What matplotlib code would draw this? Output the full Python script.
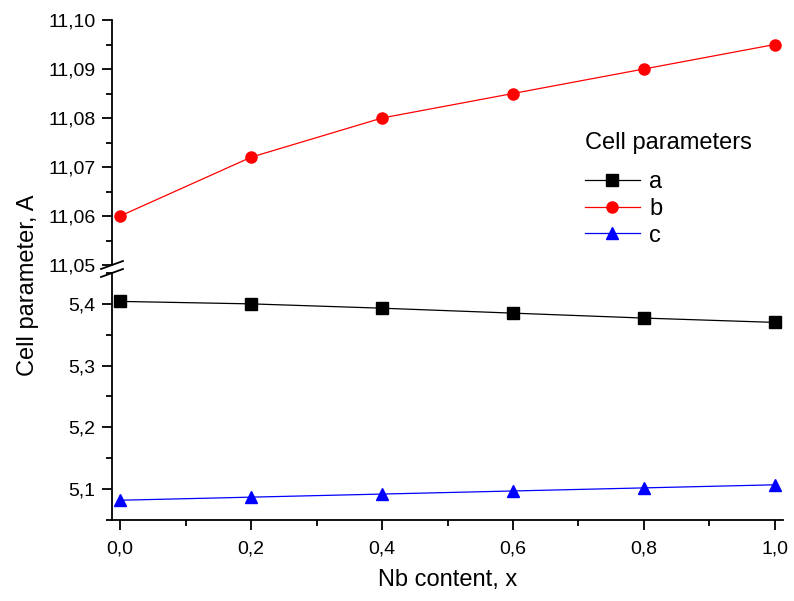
import matplotlib
matplotlib.use('Agg')
import matplotlib.pyplot as plt
from matplotlib.ticker import MultipleLocator, FuncFormatter
from matplotlib.lines import Line2D

plt.rcParams['font.family'] = ['Liberation Sans', 'DejaVu Sans']

nb = [0.0, 0.2, 0.4, 0.6, 0.8, 1.0]
a = [5.404, 5.400, 5.393, 5.385, 5.377, 5.370]
b = [11.060, 11.072, 11.080, 11.085, 11.090, 11.095]
c = [5.082, 5.087, 5.092, 5.097, 5.102, 5.107]

W, H = 794, 601
fig = plt.figure(figsize=(W / 100, H / 100), dpi=100)

left, right = 112 / W, 783 / W
ax_top = fig.add_axes([left, 1 - 265 / H, right - left, 245 / H])
ax_bot = fig.add_axes([left, 1 - 520 / H, right - left, 247 / H])

def comma(fmt):
    return FuncFormatter(lambda v, p: (fmt % v).replace('.', ','))

for ax in (ax_top, ax_bot):
    for s in ('top', 'right'):
        ax.spines[s].set_visible(False)
    ax.spines['left'].set_linewidth(1.3)
    ax.spines['bottom'].set_linewidth(1.3)
    ax.set_xlim(-0.0125, 1.0125)
    ax.tick_params(which='major', direction='out', length=7, width=1.3, labelsize=14, pad=5)
    ax.tick_params(which='minor', direction='out', length=4, width=1.3)

ax_top.spines['bottom'].set_visible(False)
ax_top.tick_params(axis='x', which='both', bottom=False, labelbottom=False)
ax_bot.tick_params(axis='x', which='major', pad=8)

ax_top.set_ylim(11.05, 11.10)
ax_top.yaxis.set_major_locator(MultipleLocator(0.01))
ax_top.yaxis.set_minor_locator(MultipleLocator(0.005))
ax_top.yaxis.set_major_formatter(comma('%.2f'))

ax_bot.set_ylim(5.05, 5.45)
ax_bot.yaxis.set_major_locator(MultipleLocator(0.1))
ax_bot.yaxis.set_minor_locator(MultipleLocator(0.05))
ax_bot.yaxis.set_major_formatter(comma('%.1f'))
ax_bot.xaxis.set_major_locator(MultipleLocator(0.2))
ax_bot.xaxis.set_minor_locator(MultipleLocator(0.1))
ax_bot.xaxis.set_major_formatter(comma('%.1f'))

ax_bot.plot(nb, a, color='black', lw=0.9, marker='s', ms=8, mfc='black', mec='black', label='a')
ax_top.plot(nb, b, color='red', lw=0.9, marker='o', ms=8, mfc='red', mec='red', label='b')
ax_bot.plot(nb, c, color='blue', lw=0.9, marker='^', ms=9, mfc='blue', mec='blue', label='c')

# break marks on the y axis
for yb in (265, 273):
    fig.add_artist(Line2D([101 / W, 123 / W], [1 - (yb + 4) / H, 1 - (yb - 4) / H],
                          color='black', lw=1.3, transform=fig.transFigure))

fig.text(0.5 * (left + right), 1 - 580 / H, 'Nb content, x', ha='center', va='center', fontsize=17)
fig.text(28 / W, 1 - 285 / H, 'Cell parameter, A', ha='center', va='center', rotation=90, fontsize=17)

fig.text(585 / W, 1 - 143 / H, 'Cell parameters', ha='left', va='center', fontsize=17)
handles = [ax_bot.lines[0], ax_top.lines[0], ax_bot.lines[1]]
leg = fig.legend(handles, ['a', 'b', 'c'], loc='upper left',
                 bbox_to_anchor=(564 / W, 1 - 150 / H), frameon=False, fontsize=17,
                 handlelength=2.3, handletextpad=0.4, labelspacing=0.2)

fig.savefig('out.png', dpi=100)
